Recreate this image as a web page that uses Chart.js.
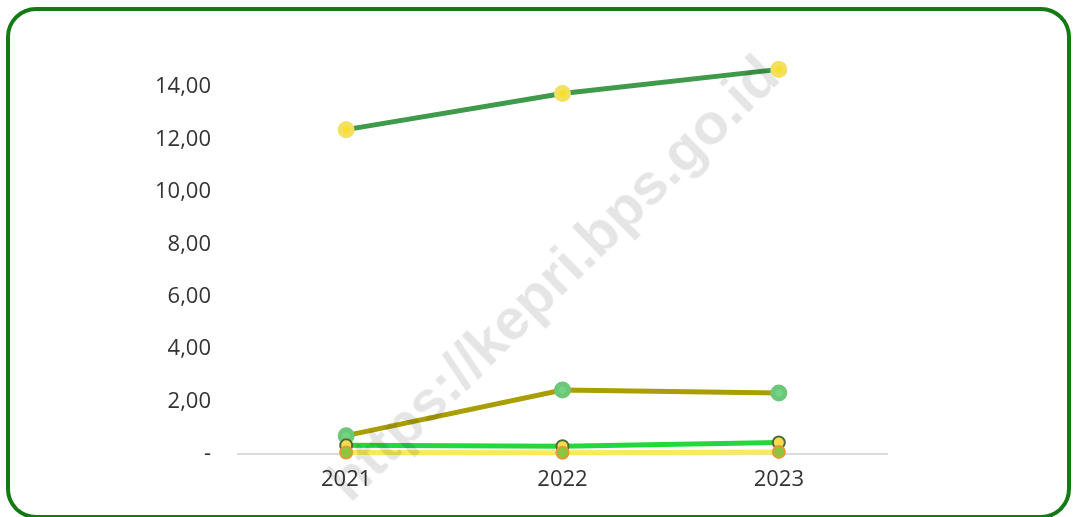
<!DOCTYPE html>
<html>
<head>
<meta charset="utf-8">
<script src="https://cdn.jsdelivr.net/npm/chart.js@4"></script>
<style>
  html, body { margin: 0; padding: 0; background: #fff; }
  #wrap { position: relative; width: 1074px; height: 517px; overflow: hidden; }
  #frame {
    position: absolute; left: 6px; top: 7px; width: 1057px; height: 504px;
    border: 4px solid #147a14; border-radius: 30px; box-sizing: content-box;
  }
  #chart { position: absolute; left: 0; top: 0; }
  #mark {
    position: absolute; left: 552px; top: 277px;
    transform: translate(-50%, -50%) rotate(-44.5deg);
    font: bold 58px "Liberation Sans", Arial, sans-serif;
    color: rgba(0, 0, 0, 0.10); white-space: nowrap; pointer-events: none;
  }
</style>
</head>
<body>
<div id="wrap">
  <div id="frame"></div>
  <canvas id="chart" width="1074" height="517"></canvas>
  <div id="mark">https://kepri.bps.go.id</div>
</div>
<script>
// 年（x 軸）
const years = ['2021', '2022', '2023'];

// 各系列の値
const seriesA = [12.38, 13.76, 14.68];
const seriesB = [0.70, 2.44, 2.33];
const seriesC = [0.33, 0.30, 0.44];
const seriesD = [0.06, 0.05, 0.08];

// y 軸の目盛り
const yTicks = [0, 2, 4, 6, 8, 10, 12, 14];

const fmt = v => v === 0 ? '-' : v.toFixed(2).replace('.', ',');

const ctx = document.getElementById('chart').getContext('2d');

new Chart(ctx, {
    type: 'line',
    data: {
        labels: years,
        datasets: [
            { data: seriesD, borderColor: '#f8ea5c', pointBackgroundColor: '#8cc63f',
              pointBorderColor: '#e39a36', borderWidth: 5, pointBorderWidth: 2 },
            { data: seriesC, borderColor: '#22d83a', pointBackgroundColor: '#f6dc4c',
              pointBorderColor: '#4f6a3a', borderWidth: 5, pointBorderWidth: 2 },
            { data: seriesB, borderColor: '#a99e04', pointBackgroundColor: '#74d482',
              pointBorderColor: '#6cc878', borderWidth: 5 },
            { data: seriesA, borderColor: '#3f9b4b', pointBackgroundColor: '#f6e02a',
              pointBorderColor: '#f3df60', borderWidth: 5 },
        ],
    },
    options: {
        responsive: false,
        animation: false,
        clip: false,
        layout: { padding: { left: 0, right: 187, top: 61, bottom: 0 } },
        elements: {
            point: { radius: 6, borderWidth: 1.5 },
            line: { tension: 0 },
        },
        plugins: { legend: { display: false }, tooltip: { enabled: false } },
        scales: {
            x: {
                offset: true,
                grid: { display: false, drawTicks: false },
                border: { display: true, color: '#dcdcdc', width: 2 },
                ticks: { padding: 13, color: '#333', font: { family: 'Open Sans', size: 22 } },
                afterFit: s => { s.height = 63; },
            },
            y: {
                min: 0, max: 15,
                grid: { display: false, drawTicks: false },
                border: { display: false },
                afterBuildTicks: s => { s.ticks = yTicks.map(v => ({ value: v })); },
                ticks: { padding: 27, color: '#333', font: { family: 'Open Sans', size: 22 },
                         callback: v => fmt(v) },
                afterFit: s => { s.width = 238; },
            },
        },
    },
});
</script>
</body>
</html>
